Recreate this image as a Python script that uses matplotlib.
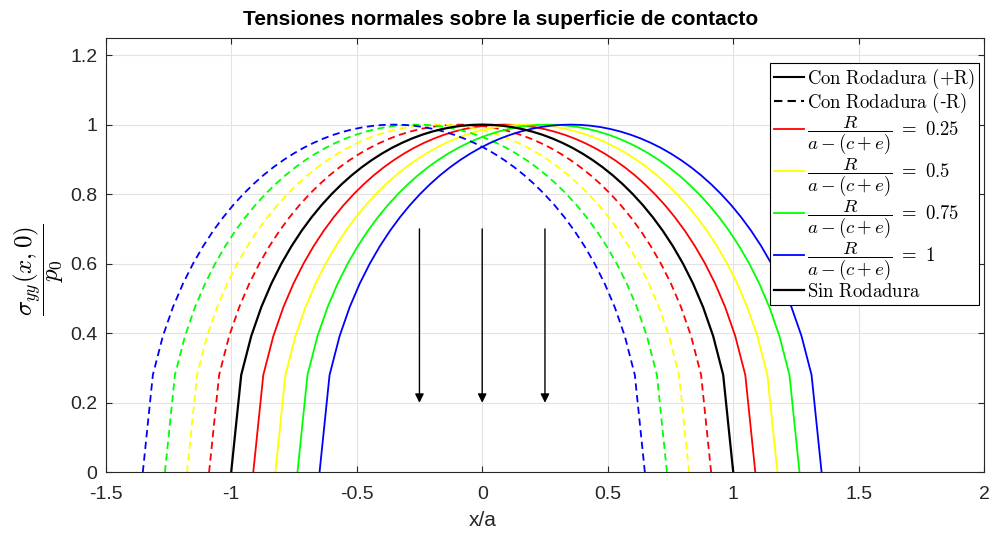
import numpy as np
import matplotlib.pyplot as plt

plt.rcParams["font.family"] = ["Liberation Sans", "DejaVu Sans"]
plt.rcParams["mathtext.fontset"] = "cm"

# contact pressure profile (half, from x=0 to x=1, step 0.04)
half_x = [0.00, 0.04, 0.08, 0.12, 0.16, 0.20, 0.24, 0.28, 0.32, 0.36, 0.40, 0.44, 0.48,
          0.52, 0.56, 0.60, 0.64, 0.68, 0.72, 0.76, 0.80, 0.84, 0.88, 0.92, 0.96, 1.00]
half_y = [1.0000, 0.9992, 0.9968, 0.9928, 0.9871, 0.9798, 0.9708, 0.9600, 0.9474, 0.9330,
          0.9165, 0.8980, 0.8773, 0.8542, 0.8285, 0.8000, 0.7684, 0.7332, 0.6940, 0.6499,
          0.6000, 0.5426, 0.4750, 0.3919, 0.2800, 0.0000]
base_x = np.array([-v for v in half_x[::-1]] + half_x[1:])
base_y = np.array(half_y[::-1] + half_y[1:])

ratios = ['0.25', '0.5', '0.75', '1']
shifts = [0.088, 0.176, 0.264, 0.352]
colors = ['#ff0000', '#ffff00', '#00ff00', '#0000ff']
arrow_x = [-0.25, 0.0, 0.25]
arrow_top, arrow_tip = 0.7, 0.2

fig = plt.figure(figsize=(9.93, 5.37), dpi=100)
ax = fig.add_axes([0.1064, 0.1205, 0.8848, 0.8093])

dash = (4, 2.5)
# legend-only entries for the two black styles
ax.plot([], [], color='k', lw=1.5, label=r'$\mathrm{Con\ Rodadura\ (+R)}$')
ax.plot([], [], color='k', lw=1.5, ls='--', dashes=dash,
        label=r'$\mathrm{Con\ Rodadura\ (}$-$\mathrm{R)}$')
for r, s, c in zip(ratios, shifts, colors):
    ax.plot(base_x + s, base_y, color=c, lw=1.3,
            label=r'$\dfrac{R}{a-(c+e)}\ =\ ' + r + '$')
    ax.plot(base_x - s, base_y, color=c, lw=1.3, ls='--', dashes=dash)
ax.plot(base_x, base_y, color='k', lw=1.6, label=r'$\mathrm{Sin\ Rodadura}$')

for xa in arrow_x:
    ax.annotate('', xy=(xa, arrow_tip), xytext=(xa, arrow_top),
                arrowprops=dict(arrowstyle='-|>', color='k', lw=1.0, mutation_scale=13,
                                shrinkA=0, shrinkB=0))

ax.set_xlim(-1.5, 2)
ax.set_ylim(0, 1.25)
ax.set_xticks(np.arange(-1.5, 2.01, 0.5))
ax.set_xticklabels(['-1.5', '-1', '-0.5', '0', '0.5', '1', '1.5', '2'])
ax.set_yticks(np.arange(0, 1.21, 0.2))
ax.set_yticklabels(['0', '0.2', '0.4', '0.6', '0.8', '1', '1.2'])
ax.grid(True, color='#e3e3e3', lw=0.8)
ax.set_axisbelow(True)
ax.tick_params(direction='in', length=4, labelsize=14, colors='#262626', top=True, right=True,
               labeltop=False, labelright=False)
ax.tick_params(axis='x', pad=10)
ax.tick_params(axis='y', pad=6)
for sp in ax.spines.values():
    sp.set_color('#262626')
    sp.set_linewidth(0.8)

ax.set_title('Tensiones normales sobre la superficie de contacto', fontsize=15,
             fontweight='bold', x=0.449, pad=9)
ax.set_xlabel('x/a', fontsize=15, color='#262626')
ax.xaxis.set_label_coords(0.4294, -0.09)
ax.set_ylabel(r'$\dfrac{\sigma_{yy}(x,0)}{p_0}$', fontsize=18)
ax.yaxis.set_label_coords(-0.045, 0.465)

leg = ax.legend(loc='upper right', bbox_to_anchor=(0.994, 0.9425), fontsize=13.5,
                frameon=True, fancybox=False, edgecolor='k', framealpha=1,
                handlelength=1.6, handletextpad=0.2, borderpad=0.2, labelspacing=0.0,
                borderaxespad=0)
leg.get_frame().set_linewidth(0.8)

fig.savefig('out.png', dpi=100)
